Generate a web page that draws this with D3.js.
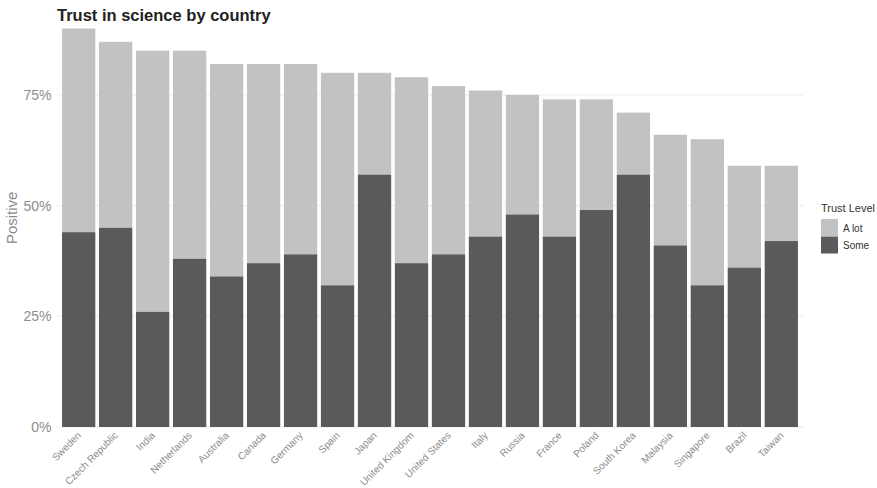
<!DOCTYPE html>
<html>
<head>
<meta charset="utf-8">
<script src="https://cdn.jsdelivr.net/npm/d3@7"></script>
<style>
  body { margin: 0; background: #fff; }
  svg { font-family: "Liberation Sans", Arial, sans-serif; }
</style>
</head>
<body>
<svg id="chart"></svg>
<script>
// Données
const countries = ["Sweden", "Czech Republic", "India", "Netherlands", "Australia",
  "Canada", "Germany", "Spain", "Japan", "United Kingdom", "United States", "Italy",
  "Russia", "France", "Poland", "South Korea", "Malaysia", "Singapore", "Brazil", "Taiwan"];
const positiveTotal = [0.90, 0.87, 0.85, 0.85, 0.82, 0.82, 0.82, 0.80, 0.80, 0.79,
  0.77, 0.76, 0.75, 0.74, 0.74, 0.71, 0.66, 0.65, 0.59, 0.59];
const someValues = [0.44, 0.45, 0.26, 0.38, 0.34, 0.37, 0.39, 0.32, 0.57, 0.37,
  0.39, 0.43, 0.48, 0.43, 0.49, 0.57, 0.41, 0.32, 0.36, 0.42];
const levels = ["A lot", "Some"];
const yTicks = [0, 0.25, 0.5, 0.75];

const width = 877, height = 488;
const colors = { "A lot": "#c1c2c4", "Some": "#5a5a5c" };

const svg = d3.select("#chart").attr("width", width).attr("height", height);

// Échelles
const x = d3.scaleBand()
  .domain(countries)
  .range([56.5, 803.5])
  .paddingInner(0.1)
  .paddingOuter(0.15);

const y = d3.scaleLinear()
  .domain([0, 0.945])
  .range([427, 8.6]);

// Grille horizontale
svg.append("g")
  .selectAll("line")
  .data(yTicks)
  .join("line")
  .attr("x1", 56.5)
  .attr("x2", 803.5)
  .attr("y1", d => y(d))
  .attr("y2", d => y(d))
  .attr("stroke", "#ebebeb")
  .attr("stroke-width", 1);

// Axe Y
const yAxis = svg.append("g")
  .attr("transform", "translate(56.5,0)")
  .call(d3.axisLeft(y).tickValues(yTicks).tickFormat(d3.format(".0%")).tickSize(0).tickPadding(5));
yAxis.select(".domain").remove();
yAxis.selectAll("text")
  .attr("fill", "#8c8c8c")
  .attr("font-size", "14px");

// Barres empilées
const rows = countries.map((c, i) => ({
  country: c,
  some: someValues[i],
  alot: positiveTotal[i] - someValues[i]
}));

const bars = svg.append("g");
bars.selectAll("rect.alot")
  .data(rows)
  .join("rect")
  .attr("class", "alot")
  .attr("x", d => x(d.country))
  .attr("width", x.bandwidth())
  .attr("y", d => y(d.some + d.alot))
  .attr("height", d => y(d.some) - y(d.some + d.alot))
  .attr("fill", colors["A lot"]);

bars.selectAll("rect.some")
  .data(rows)
  .join("rect")
  .attr("class", "some")
  .attr("x", d => x(d.country))
  .attr("width", x.bandwidth())
  .attr("y", d => y(d.some))
  .attr("height", d => y(0) - y(d.some))
  .attr("fill", colors["Some"]);

// Axe X (étiquettes inclinées)
const xAxis = svg.append("g")
  .attr("transform", `translate(0,${y(0)})`)
  .call(d3.axisBottom(x).tickSize(0).tickPadding(0));
xAxis.select(".domain").remove();
xAxis.selectAll("text")
  .attr("fill", "#8c8c8c")
  .attr("font-size", "10px")
  .attr("text-anchor", "end")
  .attr("dy", 0)
  .attr("transform", "translate(3,9) rotate(-45)");

// Titre de l'axe Y
svg.append("text")
  .attr("transform", `translate(17,${(y(0) + y(0.945)) / 2}) rotate(-90)`)
  .attr("text-anchor", "middle")
  .attr("fill", "#8c8c8c")
  .attr("font-size", "15px")
  .text("Positive");

// Titre
svg.append("text")
  .attr("x", 57)
  .attr("y", 21)
  .attr("font-size", "16.5px")
  .attr("font-weight", "bold")
  .attr("fill", "#222")
  .text("Trust in science by country");

// Légende
const legend = svg.append("g").attr("transform", "translate(821,0)");
legend.append("text")
  .attr("x", 0)
  .attr("y", 212)
  .attr("font-size", "11px")
  .attr("fill", "#333")
  .text("Trust Level");
levels.forEach((lv, i) => {
  legend.append("rect")
    .attr("x", 0)
    .attr("y", 219 + i * 17.5)
    .attr("width", 17)
    .attr("height", 17)
    .attr("fill", colors[lv]);
  legend.append("text")
    .attr("x", 22)
    .attr("y", 231.5 + i * 17.5)
    .attr("font-size", "10px")
    .attr("fill", "#333")
    .text(lv);
});
</script>
</body>
</html>
